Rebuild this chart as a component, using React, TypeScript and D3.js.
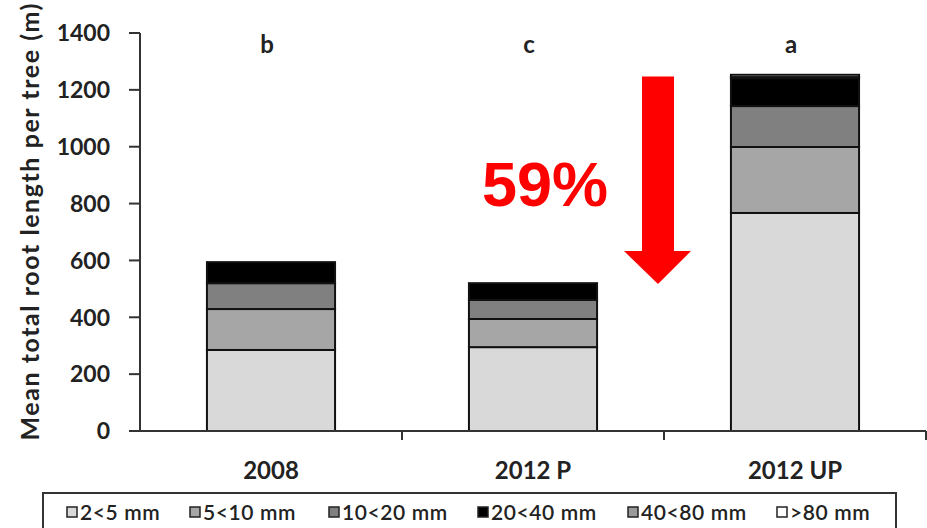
import React from "react";
import * as d3 from "d3";

// Root length classes (stack order, bottom to top)
const classes = ["2<5 mm", "5<10 mm", "10<20 mm", "20<40 mm", "40<80 mm", ">80 mm"];
const classColors = ["#d9d9d9", "#a6a6a6", "#808080", "#000000", "#9a9a9a", "#ffffff"];

// Sampling groups and significance letters
const groups = ["2008", "2012 P", "2012 UP"];
const letters = ["b", "c", "a"];

// Mean root length per tree (m) for each class, one array per class
const len2to5 = [285, 295, 767];
const len5to10 = [144, 99, 232];
const len10to20 = [91, 67, 144];
const len20to40 = [74, 59, 98];
const len40to80 = [0, 0, 4];
const lenOver80 = [0, 0, 8];

const yTicks = [0, 200, 400, 600, 800, 1000, 1200, 1400];

const W = 927;
const H = 528;
const FONT = "Lato, 'Open Sans', sans-serif";

export default function App() {
  const series = [len2to5, len5to10, len10to20, len20to40, len40to80, lenOver80];
  const rows = groups.map((g, i) => {
    const r: Record<string, any> = { group: g };
    classes.forEach((c, k) => (r[c] = series[k][i]));
    return r;
  });
  const stacked = d3.stack<any>().keys(classes)(rows);

  const x = d3
    .scaleBand<string>()
    .domain(groups)
    .range([140, 926])
    .paddingInner(0.511)
    .paddingOuter(0.2555);
  const y = d3.scaleLinear().domain([0, 1400]).range([431, 33]);

  const step = x.step();
  const axisLeft = 140;
  const axisRight = 926;
  const catTicks = groups.map((_, i) => axisLeft + step * (i + 1));

  const legendX = [67, 190, 329, 478, 628, 777];

  // Arrow from the unpruned total down toward the pruned total
  const arrowTop = y(1247);
  const arrowHeadBase = y(633);
  const arrowTip = y(517);
  const ax = 658;

  return (
    <svg
      width={W}
      height={H}
      style={{ position: "absolute", left: 0, top: 0, background: "#fff" }}
      fontFamily={FONT}
    >
      {/* y axis title */}
      <text
        transform={`translate(39,222) rotate(-90)`}
        textAnchor="middle"
        fontSize={25}
        fontWeight={700}
        fill="#222"
        textLength={437}
        lengthAdjust="spacing"
      >
        Mean total root length per tree (m)
      </text>

      {/* y axis */}
      <line x1={axisLeft} x2={axisLeft} y1={y(1400)} y2={y(0)} stroke="#333" strokeWidth={2} />
      {yTicks.map((t) => (
        <g key={t}>
          <line x1={129} x2={axisLeft} y1={y(t)} y2={y(t)} stroke="#333" strokeWidth={2} />
          <text
            x={110}
            y={y(t)}
            dy="0.36em"
            textAnchor="end"
            fontSize={23}
            fontWeight={700}
            fill="#222"
          >
            {t}
          </text>
        </g>
      ))}

      {/* stacked bars */}
      {stacked.map((layer, k) => (
        <g key={layer.key}>
          {layer.map((d, i) => {
            const h = y(d[0]) - y(d[1]);
            if (h <= 0) return null;
            return (
              <rect
                key={i}
                x={x(groups[i])}
                y={y(d[1])}
                width={x.bandwidth()}
                height={h}
                fill={classColors[k]}
                stroke="#111"
                strokeWidth={2}
              />
            );
          })}
        </g>
      ))}

      {/* x axis */}
      <line x1={axisLeft} x2={axisRight} y1={y(0)} y2={y(0)} stroke="#333" strokeWidth={2} />
      {catTicks.map((cx, i) => (
        <line key={i} x1={cx} x2={cx} y1={y(0)} y2={y(0) + 9} stroke="#333" strokeWidth={2} />
      ))}
      {groups.map((g) => (
        <text
          key={g}
          x={(x(g) as number) + x.bandwidth() / 2}
          y={479}
          textAnchor="middle"
          fontSize={24}
          fontWeight={700}
          fill="#222"
        >
          {g}
        </text>
      ))}

      {/* significance letters */}
      {groups.map((g, i) => (
        <text
          key={g}
          x={(x(g) as number) + x.bandwidth() / 2 - 4}
          y={53}
          textAnchor="middle"
          fontSize={24}
          fontWeight={700}
          fill="#222"
        >
          {letters[i]}
        </text>
      ))}

      {/* red arrow and percentage */}
      <path
        d={`M${ax - 16},${arrowTop} L${ax + 16},${arrowTop} L${ax + 16},${arrowHeadBase} L${ax + 33},${arrowHeadBase} L${ax},${arrowTip} L${ax - 34},${arrowHeadBase} L${ax - 16},${arrowHeadBase} Z`}
        fill="#ff0000"
      />
      <text
        x={545}
        y={206}
        textAnchor="middle"
        fontSize={63}
        fontWeight={700}
        fontFamily="'Liberation Sans', Arial, sans-serif"
        fill="#ff0000"
      >
        59%
      </text>

      {/* legend */}
      <rect x={43} y={493} width={853} height={45} fill="#fff" stroke="#333" strokeWidth={2} />
      {classes.map((c, k) => (
        <g key={c}>
          <rect
            x={legendX[k]}
            y={507}
            width={10}
            height={10}
            fill={classColors[k]}
            stroke="#222"
            strokeWidth={1.5}
          />
          <text
            x={legendX[k] + 13}
            y={512}
            dy="0.36em"
            fontSize={21}
            letterSpacing={0.6}
            fill="#222"
            fontWeight={600}
          >
            {c}
          </text>
        </g>
      ))}
    </svg>
  );
}
